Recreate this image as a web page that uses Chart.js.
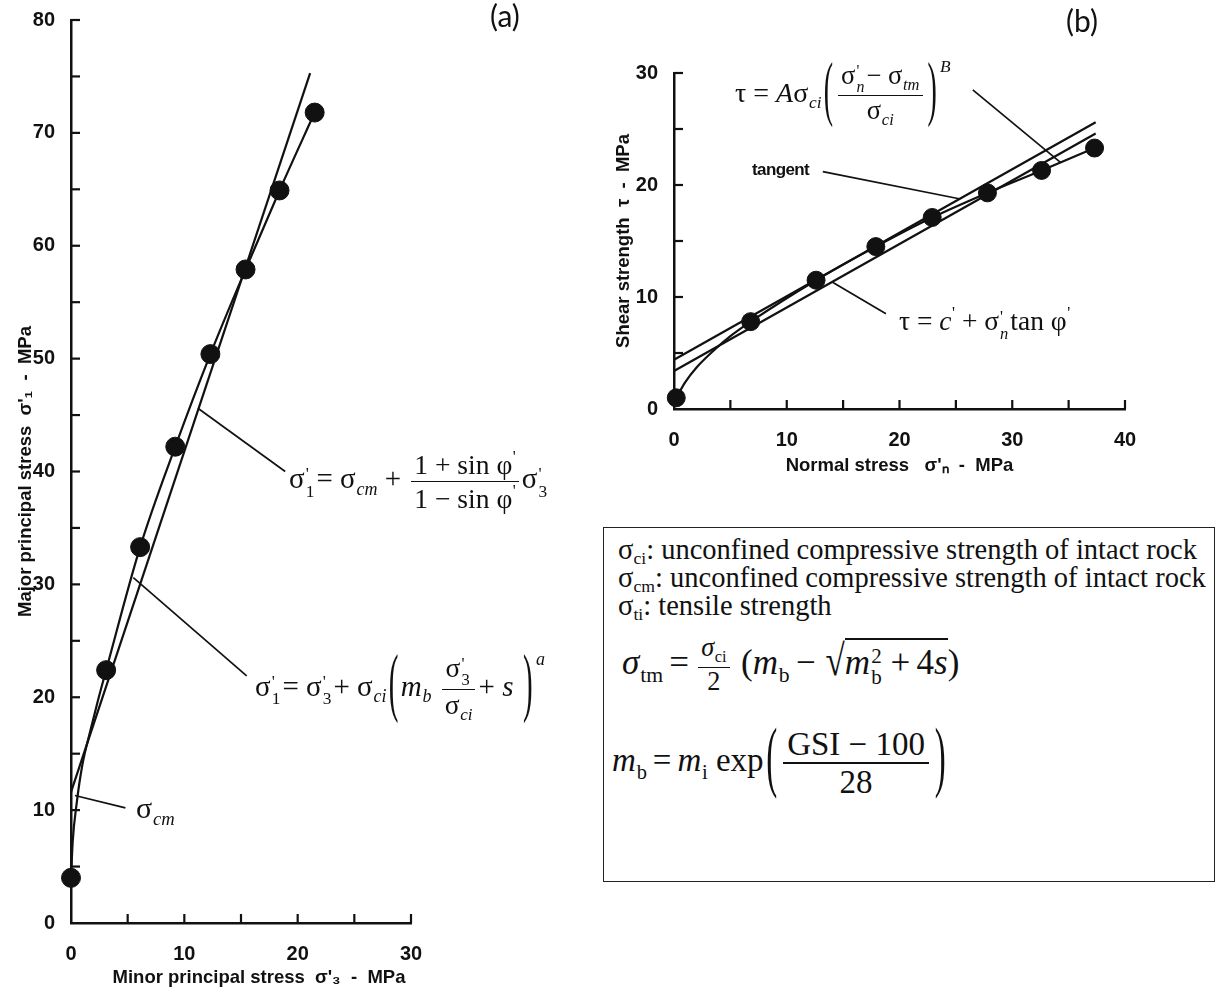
<!DOCTYPE html>
<html>
<head>
<meta charset="utf-8">
<script src="https://cdn.jsdelivr.net/npm/chart.js@4.4.1/dist/chart.umd.min.js"></script>
<style>
  html, body { margin: 0; padding: 0; background: #fff; }
  #page { position: relative; width: 1219px; height: 994px; overflow: hidden; background: #fff; }
  canvas { position: absolute; }
  .tag { position: absolute; font-family: Lato, "Open Sans", sans-serif; font-size: 30px; color: #111; }
  .m { position: absolute; font-family: "Liberation Serif", "Times New Roman", serif; color: #111; white-space: nowrap; line-height: 1; }
  .m i { font-style: italic; }
  .sb { font-size: 0.62em; font-style: italic; vertical-align: -0.38em; margin-left: 0.04em; }
  .up { font-style: normal; }
  .pr { font-size: 0.6em; vertical-align: 0.75em; margin-left: 0.03em; }
  .ex { font-size: 0.62em; font-style: italic; vertical-align: 1.7em; margin-left: 0.05em; }
  .ps { display: inline-flex; flex-direction: column; font-size: 0.6em; line-height: 1; vertical-align: 0.5em; margin: 0 0.12em 0 0.06em; }
  .fr { display: inline-flex; flex-direction: column; align-items: center; vertical-align: middle; font-size: 0.95em; margin: 0 0.1em; }
  .fr > span { line-height: 1.1; padding: 0 0.12em; }
  .fr > span:first-child { border-bottom: 0.07em solid #111; }
  .bp { display: inline-block; transform-origin: 50% 59%; transform: scaleY(2.6); margin: 0 0.08em; }
  .rad { display: inline-block; transform-origin: 50% 70%; transform: scaleY(1.25); margin-left: 0.1em; }
  .lbl { position: absolute; font-family: "Liberation Sans", Arial, sans-serif; font-weight: bold; font-size: 17px; letter-spacing: -0.6px; color: #111; }
  #box { position: absolute; left: 603px; top: 527px; width: 610px; height: 353px; border: 1.5px solid #222; }
  .bl { position: absolute; left: 14px; font-family: "Liberation Serif", "Times New Roman", serif; font-size: 28.5px; line-height: 28px; color: #111; white-space: nowrap; }
  .bl .s { font-size: 0.62em; vertical-align: -0.3em; }
  .sq { border-top: 0.06em solid #111; padding-top: 0.08em; }
  .op { margin: 0 0.18em; }
</style>
</head>
<body>
<div id="page">
  <canvas id="chartA" width="600" height="994" style="left:0;top:0"></canvas>
  <canvas id="chartB" width="619" height="500" style="left:600px;top:0"></canvas>

  <div class="tag" style="left:490px;top:-3px">(a)</div>
  <div class="tag" style="left:1066px;top:2px">(b)</div>

  <div class="m" style="left:289px;top:448px;font-size:29px">σ<span class="ps"><span>'</span><span>1</span></span>= σ<span class="sb">cm</span> + <span class="fr"><span>1 + sin φ<span class="pr">'</span></span><span>1 − sin φ<span class="pr">'</span></span></span>σ<span class="ps"><span>'</span><span>3</span></span></div>

  <div class="m" style="left:255px;top:650px;font-size:29px">σ<span class="ps"><span>'</span><span>1</span></span>= σ<span class="ps"><span>'</span><span>3</span></span>+ σ<span class="sb">ci</span><span class="bp">(</span><i>m</i><span class="sb">b</span> <span class="fr"><span>σ<span class="ps"><span>'</span><span>3</span></span></span><span>σ<span class="sb">ci</span></span></span>+ <i>s</i> <span class="bp">)</span><span class="ex">a</span></div>

  <div class="m" style="left:136px;top:793px;font-size:30px">σ<span class="sb">cm</span></div>

  <div class="m" style="left:735px;top:58px;font-size:28px">τ = <i>A</i>σ<span class="sb">ci</span><span class="bp">(</span><span class="fr"><span>σ<span class="ps"><span>'</span><span><i>n</i></span></span>− σ<span class="sb">tm</span></span><span>σ<span class="sb">ci</span></span></span><span class="bp">)</span><span class="ex">B</span></div>

  <div class="m" style="left:899px;top:305px;font-size:27.5px">τ = <i>c</i><span class="pr">'</span> + σ<span class="ps"><span>'</span><span><i>n</i></span></span>tan φ<span class="pr">'</span></div>

  <div class="lbl" style="left:752px;top:160px">tangent</div>

  <div id="box">
    <div class="bl" style="top:8px">σ<span class="s">ci</span>: unconfined compressive strength of intact rock</div>
    <div class="bl" style="top:36px">σ<span class="s">cm</span>: unconfined compressive strength of intact rock</div>
    <div class="bl" style="top:64px">σ<span class="s">ti</span>: tensile strength</div>
    <div class="m" style="left:18px;top:106px;font-size:35px"><i>σ</i><span class="sb up">tm</span><span class="op">=</span><span class="fr" style="font-size:0.75em"><span><i>σ</i><span class="sb up">ci</span></span><span>2</span></span> (<i>m</i><span class="sb up">b</span><span class="op">−</span><span class="rad">√</span><span class="sq"><i>m</i><span class="ps"><span>2</span><span>b</span></span><span class="op">+</span>4<i>s</i></span>)</div>
    <div class="m" style="left:8px;top:198px;font-size:33px"><i>m</i><span class="sb up">b</span><span class="op">=</span><i>m</i><span class="sb up">i</span> exp<span class="bp" style="transform:scaleY(2.4)">(</span><span class="fr" style="font-size:1em"><span>GSI − 100</span><span>28</span></span><span class="bp" style="transform:scaleY(2.4)">)</span></div>
  </div>
</div>
<script>
// (a) triaxial test results: minor vs major principal stress (MPa)
const minorStress = [0, 3.1, 6.1, 9.2, 12.3, 15.4, 18.4, 21.5];
const majorStress = [4.0, 22.4, 33.3, 42.2, 50.4, 57.9, 64.9, 71.8];

// (a) Hoek-Brown envelope
const hbMinor = [0, 0.15, 0.5, 1.0, 1.7, 2.4, 3.1, 6.1, 9.2, 12.3, 15.4, 18.4, 21.5];
const hbMajor = [4.0, 7.2, 10.6, 14.0, 17.0, 19.8, 22.4, 33.3, 42.2, 50.4, 57.9, 64.9, 71.8];

// (a) equivalent Mohr-Coulomb line
const mcMinor = [0, 21.1];
const mcMajor = [11.6, 75.3];

// (b) normal vs shear stress (MPa)
const normalStress = [0.2, 6.8, 12.6, 17.9, 22.9, 27.8, 32.6, 37.3];
const shearStress = [1.0, 7.8, 11.5, 14.5, 17.1, 19.3, 21.3, 23.3];

// (b) Hoek-Brown envelope in normal/shear space
const envNormal = [0.2, 1.0, 2.0, 3.5, 5.0, 6.8, 12.6, 17.9, 22.9, 27.8, 32.6, 37.3];
const envShear = [1.0, 2.4, 3.7, 5.2, 6.5, 7.8, 11.5, 14.5, 17.1, 19.3, 21.3, 23.3];

// (b) tangent and Mohr-Coulomb fit
const tangentNormal = [0, 37.4];
const tangentShear = [4.4, 25.6];
const fitNormal = [0, 37.4];
const fitShear = [3.4, 24.6];

// tick labels
const ticksA_x = [0, 10, 20, 30];
const ticksA_y = [0, 10, 20, 30, 40, 50, 60, 70, 80];
const ticksB_x = [0, 10, 20, 30, 40];
const ticksB_y = [0, 10, 20, 30];

const INK = '#111';
const SANS = '"Liberation Sans", Arial, sans-serif';

const pts = (xs, ys) => xs.map((x, i) => ({x, y: ys[i]}));

// inward tick marks + label leaders, in data units
const axisMarks = {
    id: 'axisMarks',
    afterDraw(chart, args, opts) {
        const {ctx, chartArea: area, scales: {x, y}} = chart;
        const line = (x1, y1, x2, y2) => {
            ctx.beginPath();
            ctx.moveTo(x1, y1);
            ctx.lineTo(x2, y2);
            ctx.stroke();
        };
        ctx.save();
        ctx.strokeStyle = INK;
        ctx.lineWidth = 2.2;
        x.ticks.forEach(t => {
            if (t.value === x.min) return;
            const p = x.getPixelForValue(t.value);
            line(p, area.bottom, p, area.bottom - opts.tick);
        });
        y.ticks.forEach(t => {
            if (t.value === y.min) return;
            const p = y.getPixelForValue(t.value);
            line(area.left, p, area.left + opts.tick, p);
        });
        ctx.lineWidth = 1.7;
        opts.leaders.forEach(([a, b]) => {
            line(x.getPixelForValue(a[0]), y.getPixelForValue(a[1]),
                 x.getPixelForValue(b[0]), y.getPixelForValue(b[1]));
        });
        ctx.restore();
    }
};

function axis(min, max, labels, title, titlePad, tickPad, size, horizontal) {
    return {
        type: 'linear',
        min, max,
        grid: {display: false},
        border: {display: true, color: INK, width: 2.5},
        ticks: {
            stepSize: 5,
            autoSkip: false,
            maxRotation: 0,
            padding: tickPad,
            color: INK,
            font: {family: SANS, size: 20, weight: 'bold'},
            callback: v => labels.includes(v) ? String(v) : ''
        },
        title: {
            display: true,
            text: title,
            color: INK,
            font: {family: SANS, size: 18.5, weight: 'bold'},
            padding: titlePad
        },
        afterFit: s => {
            if (horizontal) s.height = size; else s.width = size;
        }
    };
}

function makeChart(id, datasets, scales, padding, leaders) {
    return new Chart(document.getElementById(id), {
        type: 'scatter',
        data: {datasets},
        options: {
            responsive: false,
            animation: false,
            events: [],
            layout: {padding},
            plugins: {legend: {display: false}, tooltip: {enabled: false}, axisMarks: {tick: 9, leaders}},
            scales
        },
        plugins: [axisMarks]
    });
}

const markers = (xs, ys, r) => ({
    data: pts(xs, ys), showLine: false, pointRadius: r,
    pointBackgroundColor: INK, pointBorderColor: INK, clip: false
});
const curve = (xs, ys, smooth) => ({
    data: pts(xs, ys), showLine: true, pointRadius: 0, borderColor: INK, borderWidth: 2.2,
    cubicInterpolationMode: smooth ? 'monotone' : 'default', clip: false
});

makeChart('chartA', [
    markers(minorStress, majorStress, 9.5),
    curve(hbMinor, hbMajor, true),
    curve(mcMinor, mcMajor, false)
], {
    x: axis(0, 30, ticksA_x, "       Minor principal stress  σ'₃  -  MPa", {top: 0, bottom: 5}, 11, 71, true),
    y: axis(0, 80, ticksA_y, "Major principal stress  σ'₁  -  MPa", {top: 15, bottom: 0}, 8, 71, false)
}, {top: 18, left: 0, right: 189, bottom: 0}, [
    [[11.2, 45.6], [18.9, 40.0]],
    [[5.5, 30.6], [15.5, 21.9]],
    [[0.35, 11.3], [4.8, 10.2]]
]);

makeChart('chartB', [
    markers(normalStress, shearStress, 9),
    curve(envNormal, envShear, true),
    curve(tangentNormal, tangentShear, false),
    curve(fitNormal, fitShear, false)
], {
    x: axis(0, 40, ticksB_x, "Normal stress   σ'ₙ  -  MPa", {top: 0, bottom: 23}, 11, 91, true),
    y: axis(0, 30, ticksB_y, "Shear strength  τ  -  MPa", {top: 13, bottom: 0}, 8, 74, false)
}, {top: 73, left: 0, right: 94, bottom: 0}, [
    [[34.3, 22.0], [26.5, 28.5]],
    [[25.4, 18.75], [13.2, 21.2]],
    [[14.1, 11.3], [18.8, 8.5]]
]);
</script>
</body>
</html>
